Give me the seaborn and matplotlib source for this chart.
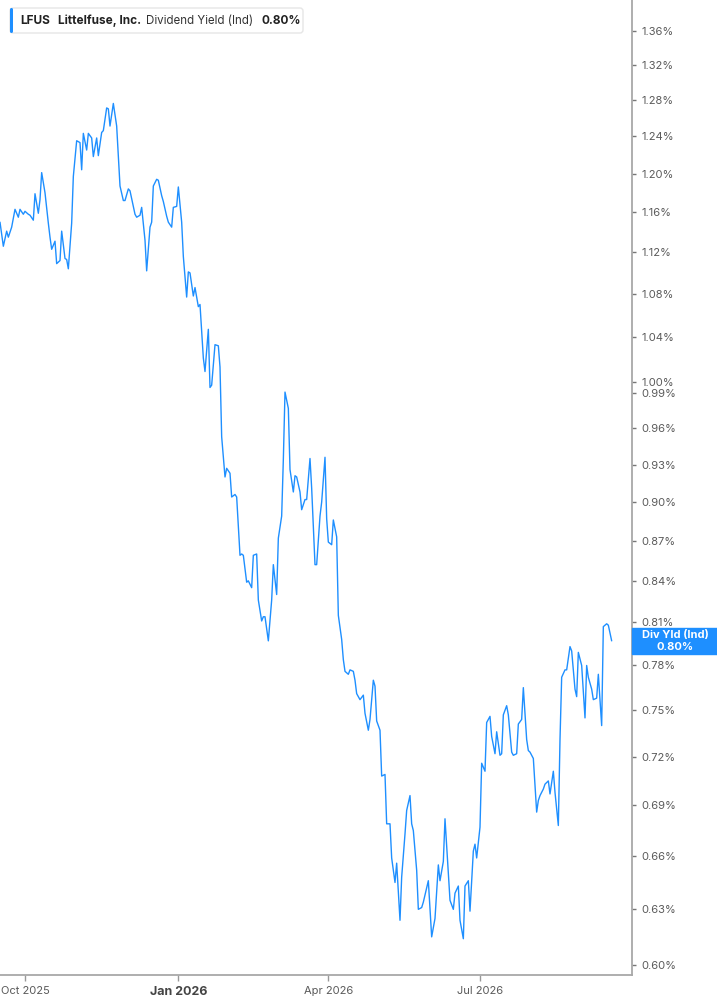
import numpy as np
import pandas as pd
import matplotlib
matplotlib.use("Agg")
import matplotlib.pyplot as plt
import seaborn as sns
from matplotlib.patches import Rectangle, FancyBboxPatch
from matplotlib.transforms import IdentityTransform
from matplotlib.ticker import NullLocator

# ******************* Data
start_date = "2025-09-16"

# calendar days since start_date, one entry per traced point
day_offsets = [
    0, 2, 4, 5, 7, 9, 11, 12, 14, 15, 17, 18, 20, 21, 23, 24, 25, 27, 29, 30,
    31, 33, 34, 36, 37, 39, 40, 41, 43, 44, 46, 48, 49, 50, 52, 53, 55, 56, 58, 59,
    61, 62, 64, 65, 66, 68, 70, 71, 72, 74, 75, 77, 78, 80, 81, 82, 84, 85, 87, 88,
    90, 91, 92, 94, 95, 97, 98, 100, 101, 103, 104, 106, 107, 109, 110, 112,
    113, 114, 116, 117, 119, 120, 122, 123, 125, 126, 127, 129, 131, 132, 133, 135,
    136, 138, 139, 141, 142, 144, 145, 146, 148, 149, 151, 152, 154, 155, 157, 158,
    159, 161, 163, 164, 166, 167, 169, 170, 171, 173, 174, 176, 177, 178, 180, 181,
    183, 184, 186, 187, 189, 190, 192, 193, 195, 196, 197, 199, 200, 202, 203, 205, 206,
    207, 209, 210, 212, 213, 214, 216, 218, 219, 221, 222, 224, 225, 226, 228, 229,
    231, 232, 234, 235, 237, 238, 240, 241, 243, 244, 246, 247, 248, 250, 251, 253,
    254, 256, 257, 259, 260, 261, 263, 264, 266, 267, 269, 270, 272, 273, 275, 276,
    278, 279, 281, 282, 284, 285, 286, 288, 289, 291, 292, 294,
    295, 297, 298, 300, 301, 302, 304, 305, 307, 308, 310, 311, 313, 314, 316, 317,
    318, 320, 322, 323, 324, 326, 327, 329, 330, 332, 333, 335, 336, 337, 339, 340,
    342, 343, 345, 346, 347, 349, 351, 352, 353, 355, 356, 358, 359, 361, 362, 364,
    365, 367,
]

# dividend yield in percent
div_yield = [
    1.150, 1.126, 1.141, 1.135, 1.145, 1.163, 1.155, 1.163, 1.158, 1.161, 1.158, 1.157,
    1.152, 1.179, 1.159, 1.173, 1.201, 1.180, 1.149, 1.135, 1.123, 1.131, 1.109, 1.112,
    1.141, 1.114, 1.113, 1.104, 1.149, 1.197, 1.235, 1.233, 1.204, 1.243, 1.225, 1.243,
    1.238, 1.218, 1.238, 1.219, 1.244, 1.246, 1.271, 1.270, 1.251, 1.276, 1.251, 1.218,
    1.187, 1.172, 1.172, 1.184, 1.182, 1.166, 1.158, 1.155, 1.157, 1.165, 1.132, 1.102,
    1.145, 1.150, 1.187, 1.194, 1.193, 1.177, 1.171, 1.156, 1.150, 1.145, 1.165, 1.166,
    1.186, 1.150, 1.116, 1.077,
    1.101, 1.100, 1.078, 1.086, 1.068, 1.070, 1.021, 1.009, 1.047, 0.995, 0.997, 1.033,
    1.032, 1.013, 0.953, 0.920, 0.927, 0.923, 0.904, 0.906, 0.904, 0.859, 0.860, 0.859,
    0.839, 0.840, 0.835, 0.859, 0.860, 0.826, 0.811, 0.814, 0.814, 0.797, 0.826, 0.852,
    0.830, 0.872, 0.889, 0.934, 0.991, 0.977, 0.926, 0.908, 0.921, 0.920, 0.908, 0.894,
    0.902, 0.902, 0.935, 0.911, 0.852, 0.852, 0.889, 0.900, 0.936, 0.887, 0.869, 0.867,
    0.886, 0.873, 0.815, 0.798, 0.784,
    0.776, 0.774, 0.777, 0.776, 0.770, 0.761, 0.757, 0.760, 0.748, 0.737, 0.744, 0.770,
    0.766, 0.743, 0.737, 0.708, 0.709, 0.679, 0.679, 0.659, 0.645, 0.656, 0.624, 0.648,
    0.673, 0.687, 0.696, 0.679, 0.675, 0.652, 0.630, 0.631, 0.634, 0.642, 0.646, 0.615,
    0.620, 0.625, 0.655, 0.646, 0.657, 0.682, 0.650, 0.635, 0.630, 0.639, 0.643, 0.624,
    0.614, 0.643, 0.646, 0.629, 0.663, 0.667, 0.659, 0.677, 0.716, 0.711, 0.742, 0.746,
    0.733, 0.722, 0.736, 0.721, 0.722, 0.747, 0.753, 0.747, 0.723, 0.721, 0.722, 0.741,
    0.744, 0.765, 0.731, 0.724, 0.723, 0.719, 0.686, 0.693, 0.696, 0.700, 0.703, 0.705,
    0.697, 0.711, 0.698, 0.678, 0.731, 0.772, 0.777, 0.777, 0.793, 0.790, 0.764, 0.759,
    0.789, 0.780, 0.745, 0.780, 0.772, 0.764, 0.757, 0.758, 0.774, 0.740, 0.807, 0.809,
    0.808, 0.797,
]

y_ticks = [0.60, 0.63, 0.66, 0.69, 0.72, 0.75, 0.78, 0.81, 0.84, 0.87, 0.90, 0.93,
           0.96, 0.99, 1.00, 1.04, 1.08, 1.12, 1.16, 1.20, 1.24, 1.28, 1.32, 1.36]
x_tick_dates = ["2025-10-01", "2026-01-01", "2026-04-01", "2026-07-01"]
x_tick_labels = ["Oct 2025", "Jan 2026", "Apr 2026", "Jul 2026"]

ticker = "LFUS"
company = "Littelfuse, Inc."
metric = "Dividend Yield (Ind)"
last_label = "Div Yld (Ind)"
last_value = 0.80

blue = "#1e8fff"
grey_axis = "#a8a8a8"
grey_text = "#5a5a5a"

# ******************* Plot
sns.set_theme(style="white")
plt.rcParams["font.family"] = ["Inter", "DejaVu Sans"]

W, H = 717, 1005
fig = plt.figure(figsize=(W / 100, H / 100), dpi=100)
ax = fig.add_axes([0, 30 / H, 632 / W, 975 / H])

df = pd.DataFrame({
    "date": pd.Timestamp(start_date) + pd.to_timedelta(day_offsets, unit="D"),
    "yield": div_yield,
})
sns.lineplot(data=df, x="date", y="yield", ax=ax, color=blue, linewidth=1.0,
             estimator=None, sort=False)

ax.set_yscale("log")
ax.set_ylim(0.5948, 1.397)
ax.set_xlim(pd.Timestamp(start_date), pd.Timestamp(start_date) + pd.Timedelta(days=379.2))

# y axis on the right
ax.yaxis.tick_right()
ax.set_yticks(y_ticks)
ax.set_yticklabels([f"{v:.2f}%" for v in y_ticks])
ax.yaxis.set_minor_locator(NullLocator())
ax.tick_params(axis="y", which="both", left=False, right=True, length=3, width=1,
               color="#777777", labelcolor=grey_text, labelsize=8, pad=4)

# x axis
ax.set_xticks(pd.to_datetime(x_tick_dates))
ax.set_xticklabels(x_tick_labels)
ax.xaxis.set_minor_locator(NullLocator())
ax.tick_params(axis="x", which="both", bottom=True, length=4, width=1,
               color="#999999", labelcolor=grey_text, labelsize=8, pad=4)
for lbl in ax.get_xticklabels():
    if lbl.get_text().startswith("Jan"):
        lbl.set_fontweight("bold")
        lbl.set_color("#444444")
        lbl.set_fontsize(9)

ax.set_xlabel("")
ax.set_ylabel("")
for side in ["top", "left"]:
    ax.spines[side].set_visible(False)
for side in ["right", "bottom"]:
    ax.spines[side].set_color(grey_axis)
    ax.spines[side].set_linewidth(1.3)
ax.grid(False)

# last value tag on the right axis, centred on the last point
y_ax = ax.transAxes.inverted().transform(
    ax.transData.transform((ax.get_xlim()[0], div_yield[-1])))[1]
box_h = 26 / 975
ax.add_patch(Rectangle((1.0, y_ax - box_h / 2), 85 / 632, box_h, transform=ax.transAxes,
                       color=blue, clip_on=False, zorder=5))
ax.text(1.0 + 43 / 632, y_ax, f"{last_label}\n{last_value:.2f}%", transform=ax.transAxes,
        ha="center", va="center", color="white", fontsize=8, fontweight="bold",
        linespacing=1.2, zorder=6)

# header legend box (pixel coordinates)
ident = IdentityTransform()
fig.patches.append(FancyBboxPatch((10, H - 33), 293, 25, boxstyle="round,pad=0,rounding_size=3",
                                  transform=ident, facecolor="white", edgecolor="#e6e6e6",
                                  linewidth=1))
fig.patches.append(FancyBboxPatch((10, H - 33), 3, 25, boxstyle="round,pad=0,rounding_size=1.5",
                                  transform=ident, facecolor=blue, edgecolor="none"))
ty = H - 20.5
fig.text(20, ty, ticker, transform=ident, va="center", ha="left", fontsize=8.5,
         fontweight="bold", color="#222222")
fig.text(58.5, ty, company, transform=ident, va="center", ha="left", fontsize=8.5,
         fontweight="bold", color="#222222")
fig.text(146.5, ty, metric, transform=ident, va="center", ha="left", fontsize=8.3,
         color="#333333")
fig.text(261.5, ty, f"{last_value:.2f}%", transform=ident, va="center", ha="left",
         fontsize=8.5, fontweight="bold", color="#222222")

fig.savefig("out.png", dpi=100)
